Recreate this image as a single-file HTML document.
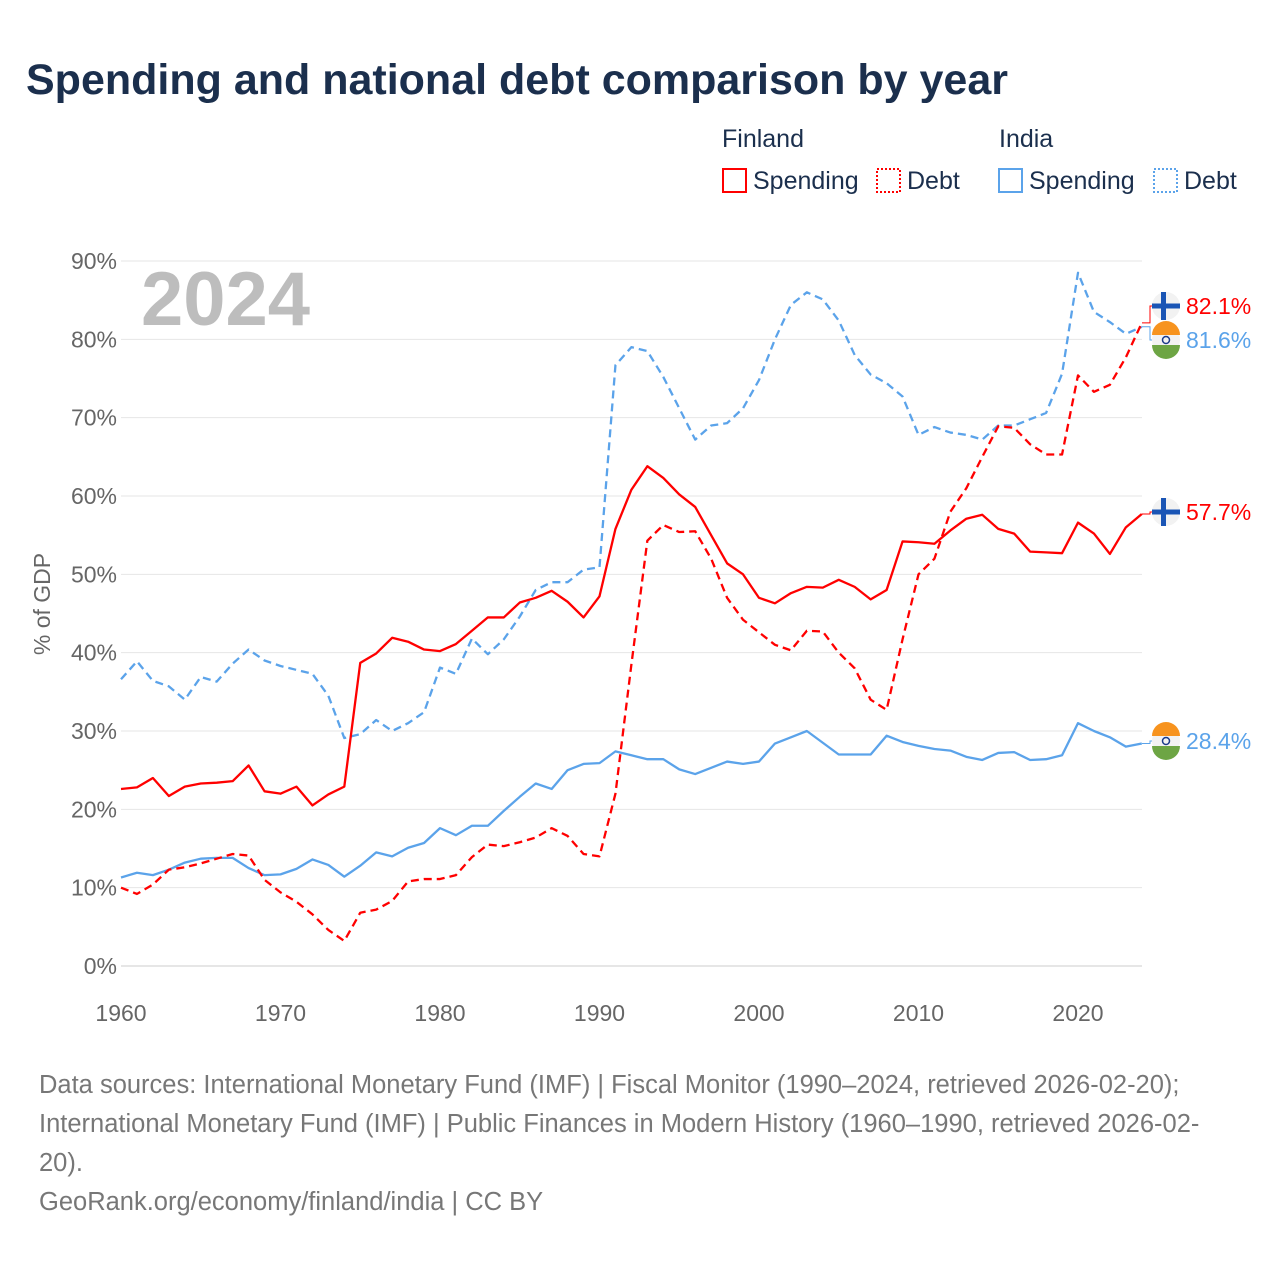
<!DOCTYPE html>
<html><head><meta charset="utf-8"><style>
body{margin:0;background:#fff;width:1280px;height:1280px;overflow:hidden;font-family:"Liberation Sans",sans-serif}
</style></head><body>
<svg id="chart" width="1280" height="1280" xmlns="http://www.w3.org/2000/svg" font-family="Liberation Sans, sans-serif">
<text x="26" y="94" font-size="43" font-weight="bold" fill="#1b2f4d">Spending and national debt comparison by year</text>
<g font-size="25" fill="#1b2f4d">
<text x="722" y="147">Finland</text><text x="999" y="147">India</text>
<g><rect x="723" y="169" width="23" height="23" fill="none" stroke="#f00" stroke-width="2"/><text x="753" y="189">Spending</text></g>
<g><rect x="877" y="169" width="23" height="23" fill="none" stroke="#f00" stroke-width="2" stroke-dasharray="2 2"/><text x="907" y="189">Debt</text></g>
<g><rect x="999" y="169" width="23" height="23" fill="none" stroke="#5ba3ea" stroke-width="2"/><text x="1029" y="189">Spending</text></g>
<g><rect x="1154" y="169" width="23" height="23" fill="none" stroke="#5ba3ea" stroke-width="2" stroke-dasharray="2 2"/><text x="1184" y="189">Debt</text></g>
</g>
<text x="141" y="325" font-size="76" font-weight="bold" fill="#bdbdbd">2024</text>
<text transform="translate(50,604) rotate(-90)" text-anchor="middle" font-size="23" fill="#666">% of GDP</text>
<g id="grid"></g><g id="series"></g><g id="labels"></g>
<g font-size="25.5" fill="#777">
<text x="39" y="1093">Data sources: International Monetary Fund (IMF) | Fiscal Monitor (1990–2024, retrieved 2026-02-20);</text>
<text x="39" y="1132">International Monetary Fund (IMF) | Public Finances in Modern History (1960–1990, retrieved 2026-02-</text>
<text x="39" y="1171">20).</text>
<text x="39" y="1210">GeoRank.org/economy/finland/india | CC BY</text>
</g>
</svg>
<script>
const years=[];for(let y=1960;y<=2024;y++)years.push(y);
const yTicks=[0,10,20,30,40,50,60,70,80,90];
const xTicks=[1960,1970,1980,1990,2000,2010,2020];
const finSpending=[22.6,22.8,24.0,21.7,22.9,23.3,23.4,23.6,25.6,22.3,22.0,22.9,20.5,21.9,22.9,38.7,39.9,41.9,41.4,40.4,40.2,41.1,42.8,44.5,44.5,46.4,47.0,47.9,46.5,44.5,47.2,55.8,60.8,63.8,62.3,60.2,58.6,55.0,51.4,50.0,47.0,46.3,47.6,48.4,48.3,49.3,48.4,46.8,48.0,54.2,54.1,53.9,55.6,57.1,57.6,55.8,55.2,52.9,52.8,52.7,56.6,55.2,52.6,56.0,57.7];
const finDebt=[10.0,9.2,10.4,12.3,12.6,13.1,13.7,14.3,14.1,11.0,9.4,8.2,6.6,4.6,3.2,6.8,7.2,8.3,10.8,11.1,11.1,11.6,13.9,15.5,15.3,15.8,16.4,17.6,16.6,14.3,14.0,22.0,38.5,54.3,56.3,55.4,55.5,52.0,47.0,44.2,42.6,41.0,40.3,42.8,42.7,40.0,38.0,34.0,32.7,41.7,50.0,52.0,58.0,61.0,65.0,68.9,68.7,66.6,65.3,65.3,75.4,73.3,74.2,77.7,82.1];
const indSpending=[11.3,11.9,11.6,12.3,13.2,13.7,13.8,13.8,12.5,11.6,11.7,12.4,13.6,12.9,11.4,12.8,14.5,14.0,15.1,15.7,17.6,16.7,17.9,17.9,19.8,21.6,23.3,22.6,25.0,25.8,25.9,27.4,26.9,26.4,26.4,25.1,24.5,25.3,26.1,25.8,26.1,28.4,29.2,30.0,28.5,27.0,27.0,27.0,29.4,28.6,28.1,27.7,27.5,26.7,26.3,27.2,27.3,26.3,26.4,26.9,31.0,30.0,29.2,28.0,28.4];
const indDebt=[36.6,38.9,36.4,35.7,34.0,36.9,36.3,38.6,40.4,39.0,38.3,37.8,37.3,34.5,29.1,29.6,31.4,30.0,31.0,32.4,38.1,37.3,41.8,39.8,41.7,44.6,48.0,49.0,49.0,50.6,50.9,76.7,79.0,78.5,75.2,71.2,67.2,69.0,69.3,71.2,74.8,80.0,84.4,86.0,85.1,82.4,78.0,75.5,74.4,72.7,67.8,68.8,68.1,67.8,67.2,69.0,69.0,69.8,70.6,75.6,88.5,83.5,82.2,80.7,81.6];
const NS="http://www.w3.org/2000/svg";
const X=y=>121+(y-1960)*(957/60), Y=v=>966-v*(705/90);
function mk(tag,attrs,parent){const e=document.createElementNS(NS,tag);for(const k in attrs)e.setAttribute(k,attrs[k]);parent.appendChild(e);return e;}
const grid=document.getElementById('grid');
yTicks.forEach(t=>{
  const l=mk('line',{x1:121,x2:1142,y1:Y(t),y2:Y(t),stroke:t===0?'#ccc':'#e6e6e6','stroke-width':1},grid);
  
  
  const tx=mk('text',{x:117,y:Y(t)+8,'text-anchor':'end','font-size':23,fill:'#666'},grid);tx.textContent=t+'%';
  
  
});
xTicks.forEach(t=>{
  const tx=mk('text',{x:X(t),y:1021,'text-anchor':'middle','font-size':23,fill:'#666'},grid);tx.textContent=t;
  
  
});
const ser=document.getElementById('series');
function line(vals,color,dash,name){
  const p=mk('polyline',{points:vals.map((v,i)=>X(years[i])+','+Y(v)).join(' '),fill:'none',stroke:color,'stroke-width':2.3,'stroke-dasharray':dash,'stroke-linejoin':'round'},ser);
  
  
}
line(indDebt,'#5ba3ea','8 5','line-india-debt');
line(indSpending,'#5ba3ea','none','line-india-spending');
line(finDebt,'#f00','8 5','line-finland-debt');
line(finSpending,'#f00','none','line-finland-spending');
const lab=document.getElementById('labels');
function flag(cx,cy,fin){
  const g=mk('g',{},lab);
  
  
  if(fin){mk('circle',{cx,cy,r:14,fill:'#f2f2f2'},g);mk('rect',{x:cx-14,y:cy-2.5,width:28,height:5,fill:'#1a55b5'},g);mk('rect',{x:cx-5,y:cy-14,width:5,height:28,fill:'#1a55b5'},g);}
  else{mk('circle',{cx,cy,r:14,fill:'#f2f2f2'},g);mk('path',{d:`M${cx-14},${cy-5} A14,14 0 0 1 ${cx+14},${cy-5} Z`,fill:'#f7931e'},g);mk('path',{d:`M${cx-14},${cy+5} A14,14 0 0 0 ${cx+14},${cy+5} Z`,fill:'#6da544'},g);mk('circle',{cx,cy,r:3.5,fill:'none',stroke:'#1a3a8a','stroke-width':1.5},g);}
}
function endLabel(v,ly,color,fin,name){
  const last=Y(v);
  const c=mk('polyline',{points:`1142,${last} 1150,${last} 1150,${ly} 1154,${ly}`,fill:'none',stroke:color,'stroke-width':1},lab);
  
  
  flag(1166,ly,fin);
  const t=mk('text',{x:1186,y:ly+8,'font-size':23,fill:color},lab);t.textContent=v.toFixed(1)+'%';
  
  
}
endLabel(finDebt[64],306,'#f00',true,'finland-debt');
endLabel(indDebt[64],340,'#5ba3ea',false,'india-debt');
endLabel(finSpending[64],512,'#f00',true,'finland-spending');
endLabel(indSpending[64],741,'#5ba3ea',false,'india-spending');
</script>
</body></html>
